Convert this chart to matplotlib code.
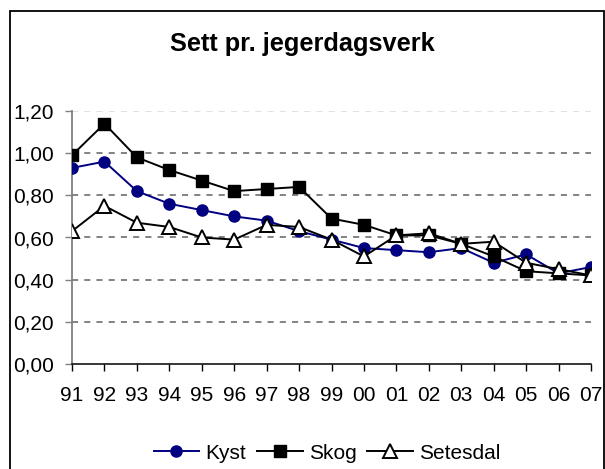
import matplotlib.pyplot as plt
from matplotlib.patches import Rectangle

plt.rcParams['font.family'] = ['Liberation Sans', 'DejaVu Sans']

# --- DATA ---
aar = ['91', '92', '93', '94', '95', '96', '97', '98', '99',
       '00', '01', '02', '03', '04', '05', '06', '07']
kyst = [0.93, 0.96, 0.82, 0.76, 0.73, 0.70, 0.68, 0.63, 0.59,
        0.55, 0.54, 0.53, 0.55, 0.48, 0.52, 0.43, 0.46]
skog = [0.99, 1.14, 0.98, 0.92, 0.87, 0.82, 0.83, 0.84, 0.69,
        0.66, 0.61, 0.61, 0.57, 0.51, 0.44, 0.43, 0.42]
setesdal = [0.63, 0.75, 0.67, 0.65, 0.60, 0.59, 0.66, 0.65, 0.59,
            0.51, 0.61, 0.62, 0.57, 0.58, 0.48, 0.45, 0.42]
y_ticks = [0.0, 0.2, 0.4, 0.6, 0.8, 1.0, 1.2]

fig = plt.figure(figsize=(6.05, 4.69), dpi=100)
ax = fig.add_axes([72 / 605, 1 - 364 / 469, 519 / 605, 253 / 469])

x = list(range(len(aar)))

# Gridlinjer (stiplet)
for v in y_ticks[1:]:
    ax.axhline(v, color='#606060' if v < 1.1 else '#d8d8d8',
               lw=1.1, ls=(0, (4, 4)), zorder=1)

ax.plot(x, kyst, color='#000080', lw=1.4, marker='o', ms=8,
        mfc='#000080', mec='#000080', label='Kyst', zorder=3)
ax.plot(x, skog, color='black', lw=1.4, marker='s', ms=9,
        mfc='black', mec='black', label='Skog', zorder=3)
ax.plot(x, setesdal, color='black', lw=1.4, marker='^', ms=10,
        mfc='white', mec='black', mew=1.4, label='Setesdal', zorder=4)

ax.set_xlim(0, len(aar) - 1)
ax.set_ylim(0, 1.2)
ax.set_xticks(x)
ax.set_xticklabels(aar)
ax.set_yticks(y_ticks)
ax.set_yticklabels([f'{v:.2f}'.replace('.', ',') for v in y_ticks])

for s in ['top', 'right']:
    ax.spines[s].set_visible(False)
ax.spines['left'].set_color('#808080')
ax.spines['left'].set_linewidth(1.3)
ax.spines['bottom'].set_color('black')
ax.spines['bottom'].set_linewidth(1.1)
ax.tick_params(axis='both', labelsize=15, length=5, width=1)
ax.tick_params(axis='x', pad=11)
ax.tick_params(axis='y', color='#808080', pad=8)
ax.patch.set_alpha(0)

fig.text(0.5, 1 - 44 / 469, 'Sett pr. jegerdagsverk', ha='center',
         va='center', fontsize=18.3, fontweight='bold')

fig.legend(loc='center', bbox_to_anchor=(327 / 605, 1 - 453 / 469),
           ncol=3, frameon=False, fontsize=15, handlelength=2.2,
           handletextpad=0.3, columnspacing=0.5, borderpad=0)

# Ramme rundt figuren (nederste kant utenfor bildet)
fig.patches.append(Rectangle((9.5 / 605, -0.05), 594 / 605, 1.05 - 11 / 469,
                             transform=fig.transFigure, fill=False,
                             edgecolor='black', lw=1.3))

fig.savefig('out.png', dpi=100)
